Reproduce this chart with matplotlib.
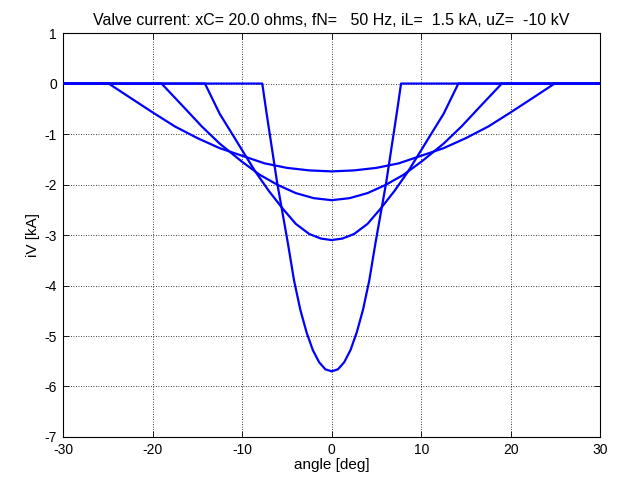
import numpy as np
import matplotlib
matplotlib.use("Agg")
import matplotlib.pyplot as plt

plt.rcParams['font.family'] = ['Liberation Sans', 'DejaVu Sans']
plt.rcParams['font.size'] = 10
plt.rcParams['axes.unicode_minus'] = False

# valve current for four firing angles, read per curve (angle in deg, current in kA)
ang1 = [-30, -7.75, -7.3, -6.7, -6.1, -5.5, -4.9, -4.2, -3.5, -2.8, -2.1, -1.4, -0.7, 0,
        0.7, 1.4, 2.1, 2.8, 3.5, 4.2, 4.9, 5.5, 6.1, 6.7, 7.3, 7.75, 30]
iv1 = [0, 0, -0.55, -1.25, -1.95, -2.55, -3.15, -3.90, -4.48, -4.93, -5.28, -5.52, -5.66, -5.70,
       -5.66, -5.52, -5.28, -4.93, -4.48, -3.90, -3.15, -2.55, -1.95, -1.25, -0.55, 0, 0]

ang2 = [-30, -14.15, -12.5, -11.0, -10.0, -8.5, -7.0, -5.5, -4.0, -2.5, -1.2, 0,
        1.2, 2.5, 4.0, 5.5, 7.0, 8.5, 10.0, 11.0, 12.5, 14.15, 30]
iv2 = [0, 0, -0.60, -1.03, -1.32, -1.75, -2.13, -2.47, -2.78, -2.98, -3.07, -3.10,
       -3.07, -2.98, -2.78, -2.47, -2.13, -1.75, -1.32, -1.03, -0.60, 0, 0]

ang3 = [-30, -19.0, -16.5, -14.5, -12.5, -10.0, -8.0, -6.0, -4.0, -2.0, 0,
        2.0, 4.0, 6.0, 8.0, 10.0, 12.5, 14.5, 16.5, 19.0, 30]
iv3 = [0, 0, -0.47, -0.85, -1.19, -1.55, -1.81, -2.01, -2.17, -2.27, -2.31,
       -2.27, -2.17, -2.01, -1.81, -1.55, -1.19, -0.85, -0.47, 0, 0]

ang4 = [-30, -24.9, -22.5, -20.0, -17.5, -15.0, -12.5, -10.0, -7.5, -5.0, -2.5, 0,
        2.5, 5.0, 7.5, 10.0, 12.5, 15.0, 17.5, 20.0, 22.5, 24.9, 30]
iv4 = [0, 0, -0.28, -0.57, -0.85, -1.08, -1.28, -1.43, -1.58, -1.67, -1.72, -1.74,
       -1.72, -1.67, -1.58, -1.43, -1.28, -1.08, -0.85, -0.57, -0.28, 0, 0]

xticks = [-30, -20, -10, 0, 10, 20, 30]
yticks = [1, 0, -1, -2, -3, -4, -5, -6, -7]

fig = plt.figure(figsize=(6.19, 4.82), dpi=100)
ax = fig.add_axes([0.1018, 0.0934, 0.868, 0.838])

for a, i in [(ang1, iv1), (ang2, iv2), (ang3, iv3), (ang4, iv4)]:
    ax.plot(a, i, color=(0, 0, 1), lw=1.6, zorder=3, solid_joinstyle='round')

ax.set_xlim(-30, 30)
ax.set_ylim(-7, 1)
ax.set_xticks(xticks)
ax.set_yticks(yticks)
ax.grid(True, color='black', linestyle=(0, (1, 2)), linewidth=0.6)
ax.tick_params(direction='in', length=4, width=0.6, top=True, right=True)
ax.tick_params(axis='x', pad=4)
ax.tick_params(axis='y', pad=4.5)
for s in ax.spines.values():
    s.set_linewidth(0.8)

ax.set_title('Valve current: xC= 20.0 ohms, fN=   50 Hz, iL=  1.5 kA, uZ=  -10 kV',
             fontsize=11.5, pad=6)
ax.set_xlabel('angle [deg]', fontsize=11, labelpad=1)
ax.set_ylabel('iV [kA]', fontsize=11, labelpad=3)

fig.savefig('out.png', dpi=100)
